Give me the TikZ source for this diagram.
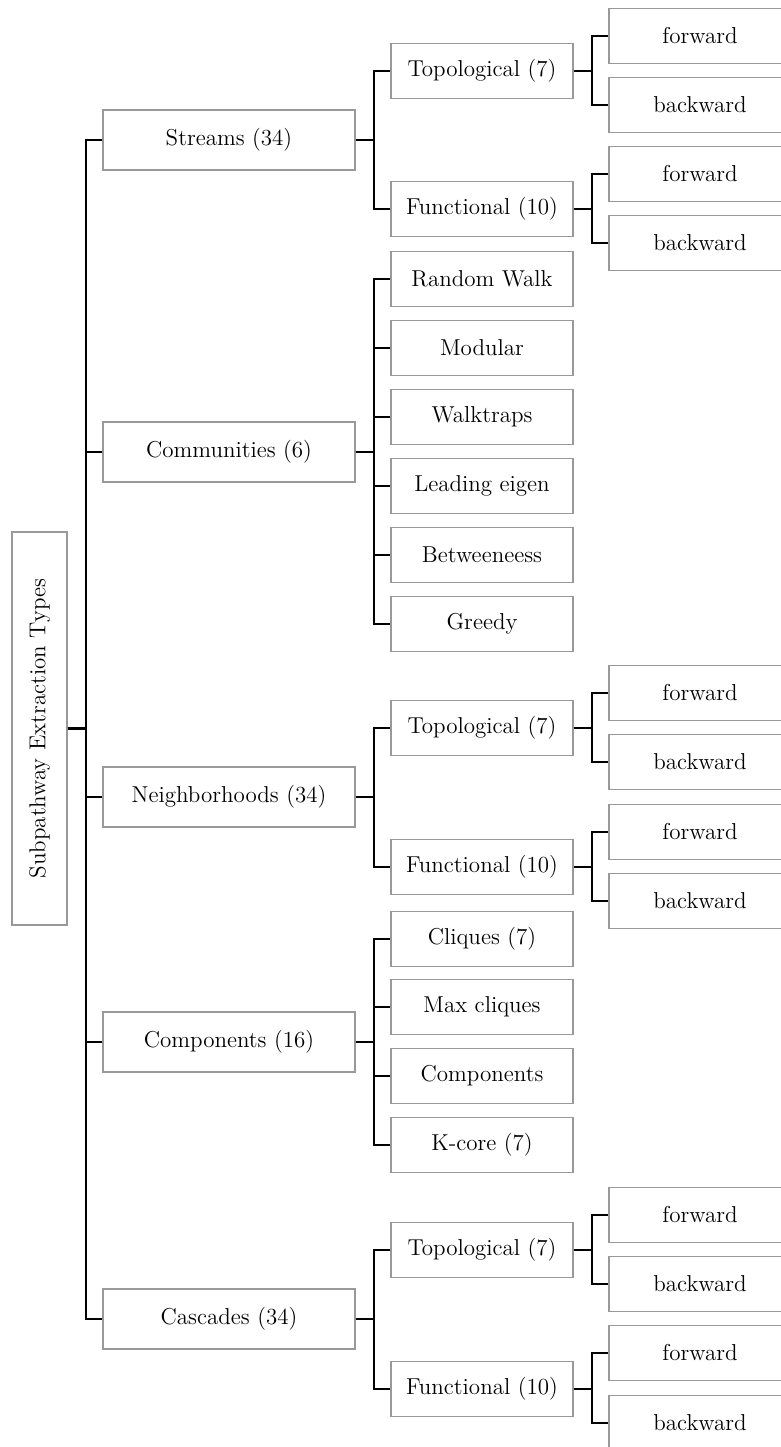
\documentclass[tikz,border=0pt]{standalone}
\usepackage{tikz}

\begin{document}
\begin{tikzpicture}[x=0.5pt,y=-0.5pt,
  box/.style={draw=gray!80,line width=0.6pt,inner sep=0pt,fill=white,
    font=\fontsize{11.5}{13}\selectfont},
  main/.style={box,minimum width=126pt,minimum height=30pt},
  sub/.style={box,minimum width=91pt,minimum height=27.5pt},
  link/.style={line width=1.1pt,black}]
  \useasboundingbox (0,0) rectangle (781,1447);
  \clip (0,0) rectangle (781,1447);
  % root
  \node[box,minimum width=27.5pt,minimum height=196.5pt] (root) at (39.5,728.5)
    {\rotatebox{90}{Subpathway Extraction Types}};
  % first level
  \node[main] (str) at (229, 140) {Streams (34)};
  \node[main] (com) at (229, 452) {Communities (6)};
  \node[main] (nbh) at (229, 797) {Neighborhoods (34)};
  \node[main] (cmp) at (229,1042) {Components (16)};
  \node[main] (cas) at (229,1319) {Cascades (34)};
  % streams
  \node[sub] (strT) at (482,  71) {Topological (7)};
  \node[sub] (strF) at (482, 209) {Functional (10)};
  \node[sub] (strTf) at (700,  36) {forward};
  \node[sub] (strTb) at (700, 105) {backward};
  \node[sub] (strFf) at (700, 174) {forward};
  \node[sub] (strFb) at (700, 243) {backward};
  % communities
  \node[sub] (comA) at (482, 279) {Random Walk};
  \node[sub] (comB) at (482, 348) {Modular};
  \node[sub] (comC) at (482, 417) {Walktraps};
  \node[sub] (comD) at (482, 486) {Leading eigen};
  \node[sub] (comE) at (482, 555) {Betweeneess};
  \node[sub] (comF) at (482, 624) {Greedy};
  % neighborhoods
  \node[sub] (nbhT) at (482, 728) {Topological (7)};
  \node[sub] (nbhF) at (482, 867) {Functional (10)};
  \node[sub] (nbhTf) at (700, 693) {forward};
  \node[sub] (nbhTb) at (700, 762) {backward};
  \node[sub] (nbhFf) at (700, 832) {forward};
  \node[sub] (nbhFb) at (700, 901) {backward};
  % components
  \node[sub] (cmpA) at (482, 939) {Cliques (7)};
  \node[sub] (cmpB) at (482,1007) {Max cliques};
  \node[sub] (cmpC) at (482,1076) {Components};
  \node[sub] (cmpD) at (482,1145) {K-core (7)};
  % cascades
  \node[sub] (casT) at (482,1250) {Topological (7)};
  \node[sub] (casF) at (482,1389) {Functional (10)};
  \node[sub] (casTf) at (700,1215) {forward};
  \node[sub] (casTb) at (700,1284) {backward};
  \node[sub] (casFf) at (700,1353) {forward};
  \node[sub] (casFb) at (700,1423) {backward};
  % brackets
  \foreach \c in {str,com,nbh,cmp,cas}
    \draw[link] (root.east) -- ++(18,0) |- (\c.west);
  \foreach \p in {str,nbh,cas} {
    \foreach \c in {T,F} {
      \draw[link] (\p.east) -- ++(18,0) |- (\p\c.west);
      \draw[link] (\p\c.east) -- ++(18,0) |- (\p\c f.west);
      \draw[link] (\p\c.east) -- ++(18,0) |- (\p\c b.west);
    }
  }
  \foreach \c in {A,B,C,D,E,F}
    \draw[link] (com.east) -- ++(18,0) |- (com\c.west);
  \foreach \c in {A,B,C,D}
    \draw[link] (cmp.east) -- ++(18,0) |- (cmp\c.west);
\end{tikzpicture}
\end{document}
